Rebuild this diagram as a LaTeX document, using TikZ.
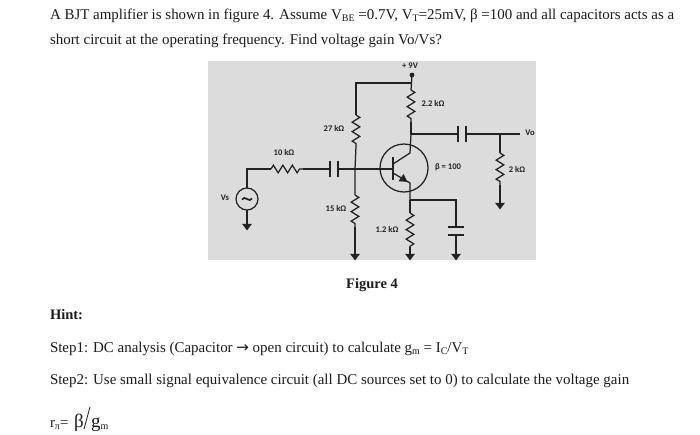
\documentclass[tikz,border=0pt]{standalone}
\usepackage{fontspec}
\setmainfont{Liberation Serif}
\setsansfont{Carlito}
\newfontfamily\arrowfont{DejaVu Sans}
\usetikzlibrary{decorations.pathmorphing}
\newcommand{\sbs}[1]{\raisebox{-2.2pt}{\fontsize{10}{10}\selectfont #1}}
\tikzset{
  x=1pt,y=-1pt,
  wire/.style={draw=wirecol,line width=1.25pt,line join=miter},
  res/.style={wire,decorate,decoration={zigzag,segment length=9.5pt,amplitude=3.8pt}},
  txt/.style={anchor=base west,inner sep=0pt,outer sep=0pt,text=textcol,font=\fontsize{14.95}{16}\selectfont},
  lbl/.style={inner sep=0pt,outer sep=0pt,text=wirecol,font=\sffamily\bfseries\fontsize{8.6}{9}\selectfont},
  gnd/.style={fill=wirecol,draw=wirecol,line width=0.4pt},
}
\definecolor{wirecol}{HTML}{222222}
\definecolor{textcol}{HTML}{1C1C1C}
\definecolor{panel}{HTML}{DCDCDC}
\begin{document}
\begin{tikzpicture}
\useasboundingbox (0,0) rectangle (700,434);
\fill[white] (0,0) rectangle (700,434);
\fill[panel] (208,61) rectangle (536,260);
% text
\node[txt] (t1) at (50,19) {A BJT amplifier is shown in figure 4. Assume V\sbs{BE} =0.7V, V\sbs{T}=25mV, β =100 and all capacitors acts as a};
\node[txt] (t2) at (50,44) {short circuit at the operating frequency. Find voltage gain Vo/Vs?};
\node[txt,font=\bfseries\fontsize{14.5}{16}\selectfont,anchor=base] (fig) at (372,288) {Figure 4};
\node[txt,font=\bfseries\fontsize{14.5}{16}\selectfont] (hint) at (50,319) {Hint:};
\node[txt] (s1) at (50,352) {Step1: DC analysis (Capacitor {\arrowfont\fontsize{15}{16}\selectfont →} open circuit) to calculate g\sbs{m} = I\sbs{C}/V\sbs{T}};
\node[txt] (s2) at (50,384) {Step2: Use small signal equivalence circuit (all DC sources set to 0) to calculate the voltage gain};
\node[txt] (rp) at (50,427) {r\sbs{π}=};
\node[txt,font=\fontsize{19}{20}\selectfont] (rb) at (74,427) {β};
\node[txt,font=\fontsize{19}{20}\selectfont] (rg) at (91,427) {g\sbs{m}};
\coordinate (sa) at (90,407); \coordinate (sb) at (84,429);
\draw[draw=textcol,line width=0.8pt] (sa) -- (sb);
% coordinates
\coordinate (vcc) at (412,75);
\coordinate (topL) at (356,83);
\coordinate (topR) at (412,83);
\coordinate (r27a) at (356,115);
\coordinate (r27b) at (356,146);
\coordinate (bj) at (355,169);
\coordinate (r15a) at (355,195);
\coordinate (r15b) at (355,227);
\coordinate (g15) at (355,254);
\coordinate (src) at (247,169);
\coordinate (r10a) at (271,169);
\coordinate (r10b) at (303,169);
\coordinate (c1a) at (330,169);
\coordinate (c1b) at (338,169);
\coordinate (gs) at (247,224);
\coordinate (bar) at (393,169);
\coordinate (cu) at (410,153);
\coordinate (cj) at (411,134);
\coordinate (r22a) at (411,90);
\coordinate (r22b) at (411,122);
\coordinate (c2a) at (458,134);
\coordinate (c2b) at (466,134);
\coordinate (vo) at (520,134);
\coordinate (oj) at (500,134);
\coordinate (r2a) at (500,153);
\coordinate (r2b) at (500,185);
\coordinate (g2) at (500,203);
\coordinate (eu) at (410,183);
\coordinate (ej) at (410,200);
\coordinate (r12a) at (410,213);
\coordinate (r12b) at (410,247);
\coordinate (g12) at (410,254);
\coordinate (ecr) at (456,200);
\coordinate (c3a) at (456,227);
\coordinate (c3b) at (456,235);
\coordinate (g3) at (456,254);
% wires
\fill[wirecol] (vcc) circle (2.4);
\draw[wire] (vcc) -- (r22a);
\draw[wire] (topR) -- (topL) -- (r27a);
\draw[res] (r27a) -- (r27b);
\draw[wire] (r27b) -- (bj) -- (r15a);
\draw[res] (r15a) -- (r15b);
\draw[wire] (r15b) -- (g15);
\draw[wire] (gs) -- (src) -- (r10a);
\draw[res] (r10a) -- (r10b);
\draw[wire] (r10b) -- (c1a);
\draw[wire] (c1a |- 0,161) -- (c1a |- 0,177);
\draw[wire] (c1b |- 0,161) -- (c1b |- 0,177);
\draw[wire] (c1b) -- (bar);
\node[draw=wirecol,line width=1.25pt,circle,minimum size=22pt,inner sep=0pt,fill=panel] (vs) at (247,199) {};
\coordinate (ta) at (242,199.5); \coordinate (tb) at (252,198.5);
\draw[draw=wirecol,line width=1.7pt] (ta) .. controls (244.5,194.5) and (249.5,203.5) .. (tb);
% BJT
\node[draw=wirecol,line width=1.25pt,circle,minimum size=48pt,inner sep=0pt] (q) at (404,168) {};
\draw[wire] (393,157) -- (393,180);
\draw[wire] (393,164) -- (cu) -- (cj);
\draw[wire] (393,173) -- (eu) -- (ej);
\draw[fill=wirecol,draw=wirecol,line width=0.4pt] (407,181.5) -- (399,181) -- (403.5,174.5) -- cycle;
% collector
\draw[res] (r22a) -- (r22b);
\draw[wire] (r22b) -- (cj) -- (c2a);
\draw[wire] (c2a |- 0,126) -- (c2a |- 0,142);
\draw[wire] (c2b |- 0,126) -- (c2b |- 0,142);
\draw[wire] (c2b) -- (vo);
\draw[wire] (oj) -- (r2a);
\draw[res] (r2a) -- (r2b);
\draw[wire] (r2b) -- (g2);
% emitter
\draw[wire] (ej) -- (r12a);
\draw[res] (r12a) -- (r12b);
\draw[wire] (r12b) -- (g12);
\draw[wire] (ej) -- (ecr) -- (c3a);
\draw[wire] (448,227) -- (464,227);
\draw[wire] (448,235) -- (464,235);
\draw[wire] (c3b) -- (g3);
% grounds
\foreach \g in {gs,g15,g12,g3,g2}{
  \path[gnd] (\g) ++(-4.5,0) -- ++(9,0) -- ++(-4.5,6) -- cycle;
}
% labels
\node[lbl] (l9) at (410,66) {+ 9V};
\node[lbl] (l27) at (334,128) {27 kΩ};
\node[lbl] (l10) at (284,153) {10 kΩ};
\node[lbl] (l15) at (336,209) {15 kΩ};
\node[lbl] (lvs) at (225,198) {Vs};
\node[lbl] (l22) at (433,104) {2.2 kΩ};
\node[lbl] (lb) at (448,167) {β = 100};
\node[lbl] (l2) at (517,169) {2 kΩ};
\node[lbl] (l12) at (387,230) {1.2 kΩ};
\node[lbl] (lvo) at (530,133) {Vo};
\end{tikzpicture}
\end{document}
